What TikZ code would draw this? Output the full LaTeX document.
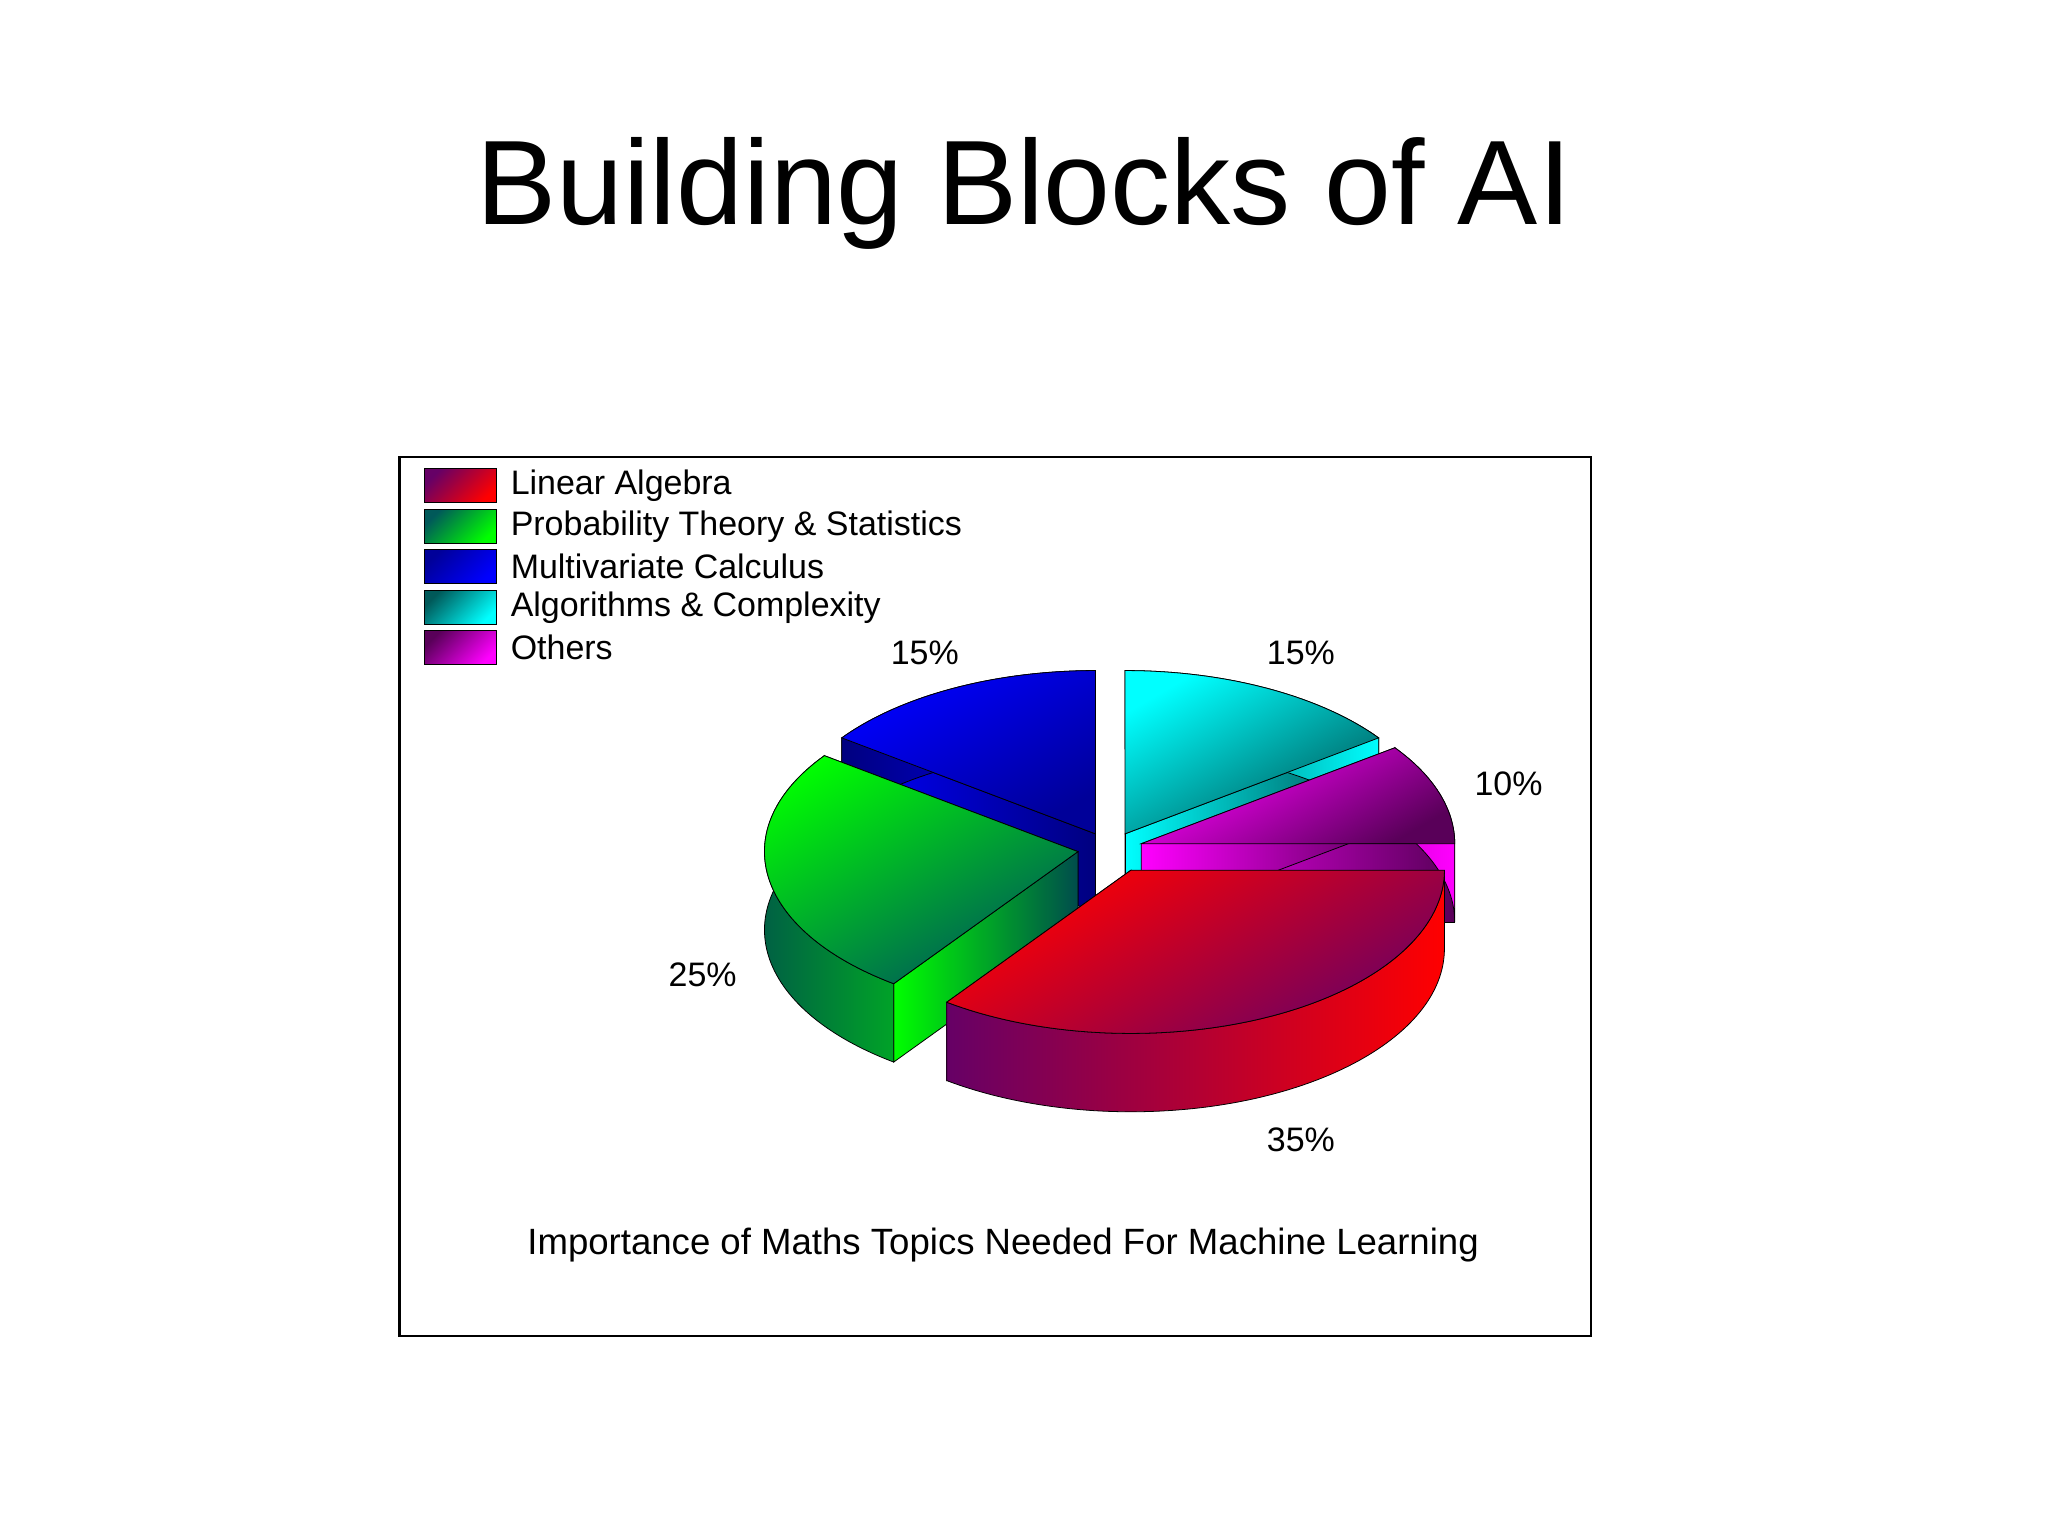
\documentclass[tikz,border=0pt]{standalone}
\usepackage{fontspec}
\setmainfont{Liberation Sans}
\begin{document}
\begin{tikzpicture}[x=0.5pt,y=0.5pt,
  lbl/.style={font=\fontsize{13}{15}\selectfont},
  sw/.style={draw=black,line width=0.4pt}]
\useasboundingbox (0,0) rectangle (1568,1176);
\fill[white] (0,0) rectangle (1568,1176);
\node[font=\fontsize{46}{52}\selectfont] (title) at (784,1028) {Building Blocks of AI};
\draw[line width=1pt] (306,153) rectangle (1218,826);
% legend
\foreach \i/\ca/\cb/\t in {0/red/violet!80!black/Linear Algebra,1/green/teal!70!black/Probability Theory \& Statistics,2/blue/blue!60!black/Multivariate Calculus,3/cyan/teal!70!black/Algorithms \& Complexity,4/magenta/violet!70!black/Others}{
  \shade[sw,left color=\cb,right color=\ca,shading angle=45] (325,{817-31*\i}) rectangle (380,{791-31*\i});
  \node[lbl,anchor=west] (leg\i) at (384,{804-31*\i}) {\t};
}
\newcommand\pieslice[7]{%
  \pgfmathsetmacro\midang{(#1+#2)/2}%
  \pgfmathsetmacro\pcx{850+#3*cos(\midang)}%
  \pgfmathsetmacro\pcy{526+#3*sin(\midang)*0.52}%
  \coordinate (c) at (\pcx,\pcy);
  \coordinate (cb) at (\pcx,\pcy-60);
  \shade[left color=#6,right color=#7,draw=black,line width=0.3pt] (c) -- ++(#1:240 and 125) -- ++(0,-60) -- (cb) -- cycle;
  \shade[left color=#6,right color=#7,draw=black,line width=0.3pt] (c) -- ++(#2:240 and 125) -- ++(0,-60) -- (cb) -- cycle;
  \shade[left color=#7,right color=#6,draw=black,line width=0.3pt] (c) ++(#1:240 and 125) arc[start angle=#1,end angle=#2,x radius=240,y radius=125] -- ++(0,-60) arc[start angle=#2,end angle=#1,x radius=240,y radius=125] -- cycle;
  \shade[left color=#4,right color=#5,shading angle=30,draw=black,line width=0.3pt] (c) -- ++(#1:240 and 125) arc[start angle=#1,end angle=#2,x radius=240,y radius=125] -- cycle;
}
\pieslice{90}{144}{25}{blue}{blue!60!black}{blue}{blue!50!black}
\pieslice{36}{90}{25}{cyan}{teal!70!black}{cyan}{teal!60!black}
\pieslice{0}{36}{25}{magenta}{violet!70!black}{magenta}{violet!70!black}
\pieslice{144}{234}{25}{green}{teal!70!black}{green}{teal!60!black}
\pieslice{-126}{0}{35}{red}{violet!80!black}{red}{violet!80!black}
\node[lbl] (p1) at (708,676) {15\%};
\node[lbl] (p2) at (996,676) {15\%};
\node[lbl] (p3) at (1155,576) {10\%};
\node[lbl] (p4) at (538,430) {25\%};
\node[lbl] (p5) at (996,303) {35\%};
\node[font=\fontsize{14}{16}\selectfont] (cap) at (768,223) {Importance of Maths Topics Needed For Machine Learning};
\end{tikzpicture}
\end{document}
